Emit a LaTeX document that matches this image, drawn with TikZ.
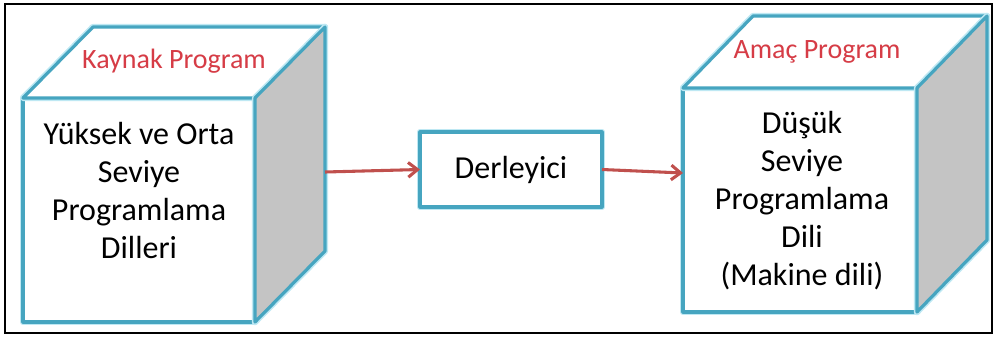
\documentclass[tikz,border=0pt]{standalone}
\usepackage{fontspec}
\setmainfont{Carlito}
\usetikzlibrary{calc,arrows.meta}
\definecolor{cubeedge}{RGB}{70,165,192}
\definecolor{edgeglow}{RGB}{190,232,243}
\definecolor{sidegray}{RGB}{196,196,196}
\definecolor{arrowred}{RGB}{192,80,77}
\definecolor{labelred}{RGB}{214,60,70}

\begin{document}
\begin{tikzpicture}[x=0.75pt,y=-0.75pt,
	edge/.style={draw=cubeedge,line width=2.4pt,line join=round,
		preaction={draw=edgeglow,line width=4.8pt,line join=round}},
	cubeface/.style={edge,fill=white,rectangle,inner sep=0pt,outer sep=0pt},
	bodytext/.style={align=center,font=\fontsize{24}{28.5}\selectfont},
	toptext/.style={text=labelred,font=\fontsize{21}{24}\selectfont},
	flow/.style={draw=arrowred,line width=2.3pt,-{Straight Barb[length=7pt,width=11pt]}}]
			%%%%% START %%%%%
			
			\useasboundingbox (0,0) rectangle (995,340);
			\draw[line width=1.4pt] (5,4) rectangle (992,333);
			
			% left cube
			\node[cubeface,minimum width=174pt,minimum height=168pt] (kaynak) at (139,210) {};
			\draw[edge,fill=white] (kaynak.north west) -- +(70,-71) -- ($(kaynak.north east)+(70,-71)$) -- (kaynak.north east) -- cycle;
			\draw[edge,fill=sidegray] (kaynak.north east) -- +(70,-71) -- ($(kaynak.south east)+(70,-71)$) -- (kaynak.south east) -- cycle;
			\node[toptext] (kaynaklabel) at ($(kaynak.north)+(35,-37)$) {Kaynak Program};
			\node[bodytext] (kaynaktext) at (139,190) {Yüksek ve Orta\\Seviye\\Programlama\\Dilleri};
			\coordinate (kaynakout) at ($(kaynak.east)+(70,-38)$);
			
			% compiler
			\node[cubeface,minimum width=136.5pt,minimum height=56.25pt,font=\fontsize{24}{28.5}\selectfont] (derleyici) at (511,169.5) {Derleyici};
			
			% right cube
			\node[cubeface,minimum width=175.5pt,minimum height=168pt] (amac) at (800,200) {};
			\draw[edge,fill=white] (amac.north west) -- +(70,-72) -- ($(amac.north east)+(70,-72)$) -- (amac.north east) -- cycle;
			\draw[edge,fill=sidegray] (amac.north east) -- +(70,-72) -- ($(amac.south east)+(70,-72)$) -- (amac.south east) -- cycle;
			\node[toptext] (amaclabel) at ($(amac.north)+(17,-36)$) {Amaç Program};
			\node[bodytext] (amactext) at (802,201) {Düşük\\Seviye\\Programlama\\Dili\\(Makine dili)};
			\coordinate (amacin) at ($(amac.west)+(0,-27)$);
			
			\draw[flow] (kaynakout) -- (derleyici.west);
			\draw[flow] (derleyici.east) -- (amacin);
			
			%%%%% END %%%%%
\end{tikzpicture}
\end{document}
